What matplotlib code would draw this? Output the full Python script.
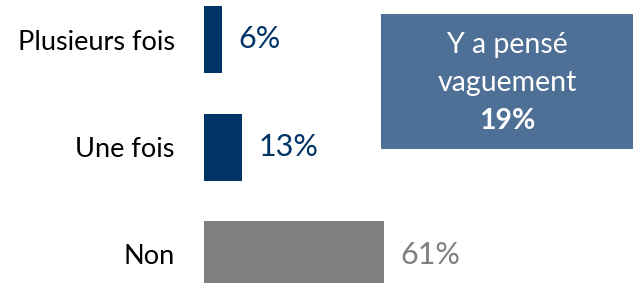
import matplotlib.pyplot as plt
from matplotlib.patches import Rectangle

categories = ["Plusieurs fois", "Une fois", "Non"]
values = [6, 13, 61]
bar_colors = ["#003366", "#003366", "#7F7F7F"]
label_colors = ["#003366", "#003366", "#7F7F7F"]

box_lines = ["Y a pensé", "vaguement"]
box_value = 19

plt.rcParams["font.family"] = ["Lato", "DejaVu Sans"]

W, H = 636, 283
fig = plt.figure(figsize=(W / 100, H / 100), dpi=100)

# axes starts where the bars start; ~2.95 px per percent
px_per_pct = 2.95
ax = fig.add_axes([204 / W, 0, 1 - 204 / W, 1])
ax.set_xlim(0, (W - 204) / px_per_pct)
step = 107.5
ax.set_ylim((H - 39.5) / step, -39.5 / step)

y = range(len(categories))
ax.barh(y, values, height=67 / step, color=bar_colors)

for i, v in enumerate(values):
    ax.annotate(f"{v}%", (v, i), xytext=(12, 0), textcoords="offset points",
                va="center", ha="left", fontsize=22, color=label_colors[i])

ax.set_yticks(list(y))
ax.set_yticklabels(categories, fontsize=19.5)
ax.tick_params(axis="y", length=0, pad=21)
ax.set_xticks([])
for s in ax.spines.values():
    s.set_visible(False)

# encadré "Y a pensé vaguement"
bx0, by0, bx1, by1 = 381, 14, 633, 149
fig.add_artist(Rectangle((bx0 / W, 1 - by1 / H), (bx1 - bx0) / W, (by1 - by0) / H,
                         transform=fig.transFigure, facecolor="#4F7096",
                         edgecolor="none"))
cx = (bx0 + bx1) / 2 / W
fig.text(cx, 1 - 45 / H, box_lines[0], ha="center", va="center", color="white", fontsize=20.5)
fig.text(cx, 1 - 83 / H, box_lines[1], ha="center", va="center", color="white", fontsize=20.5)
fig.text(cx, 1 - 121 / H, f"{box_value}%", ha="center", va="center", color="white",
         fontsize=20.5, fontweight="bold")

fig.savefig("out.png", dpi=100)
